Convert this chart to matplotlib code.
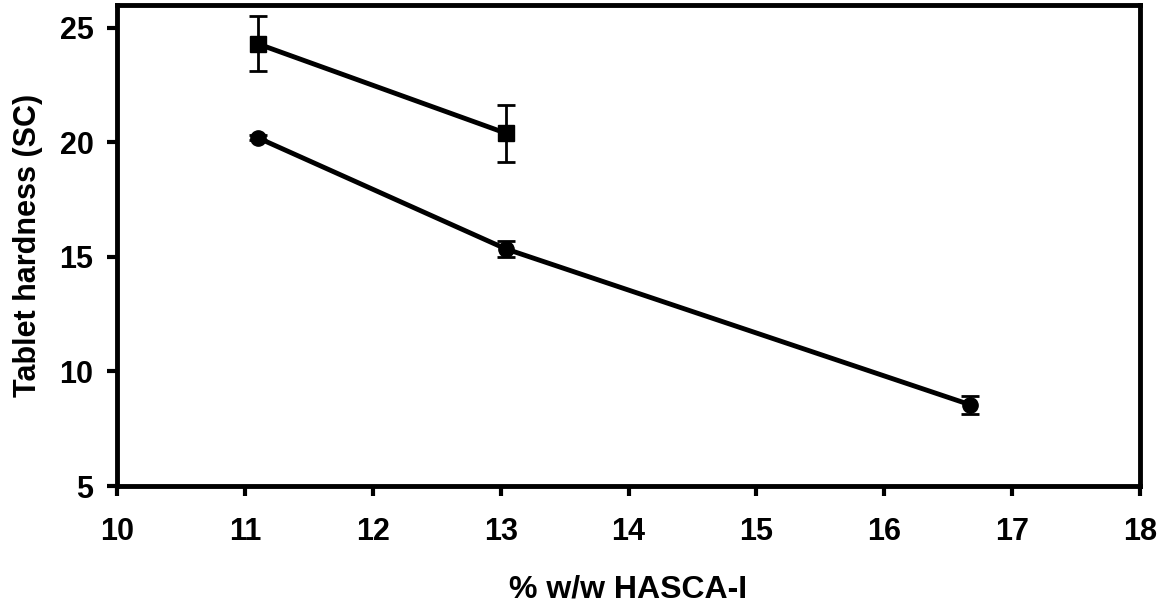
import matplotlib
matplotlib.use("Agg")
import matplotlib.pyplot as plt

plt.rcParams['font.family'] = ['Liberation Sans', 'DejaVu Sans']
plt.rcParams['font.weight'] = 'bold'

# series 1 (squares)
x_sq = [11.1, 13.04]
y_sq = [24.3, 20.4]
err_sq = [1.2, 1.25]

# series 2 (circles)
x_ci = [11.1, 13.04, 16.67]
y_ci = [20.2, 15.35, 8.55]
err_ci = [0.1, 0.35, 0.4]

xticks = [10, 11, 12, 13, 14, 15, 16, 17, 18]
yticks = [5, 10, 15, 20, 25]

fig = plt.figure(figsize=(11.59, 6.06), dpi=100)
ax = fig.add_axes([0.101, 0.198, 0.8826, 0.794])

ax.errorbar(x_sq, y_sq, yerr=err_sq, color='black', marker='s', markersize=12,
            linewidth=3.5, elinewidth=2, capsize=6.5, capthick=2)
ax.errorbar(x_ci, y_ci, yerr=err_ci, color='black', marker='o', markersize=11,
            linewidth=3.5, elinewidth=2, capsize=6.5, capthick=2)

ax.set_xlim(10, 18)
ax.set_ylim(5, 26)
ax.set_xticks(xticks)
ax.set_yticks(yticks)
ax.tick_params(direction='out', length=7, width=3, labelsize=22, pad=15)
ax.tick_params(axis='y', pad=10)
for s in ax.spines.values():
    s.set_linewidth(3.5)

ax.set_xlabel('% w/w HASCA-I', fontsize=23, fontweight='bold', labelpad=20)
ax.set_ylabel('Tablet hardness (SC)', fontsize=22, fontweight='bold', labelpad=12)

plt.savefig('out.png', dpi=100)
